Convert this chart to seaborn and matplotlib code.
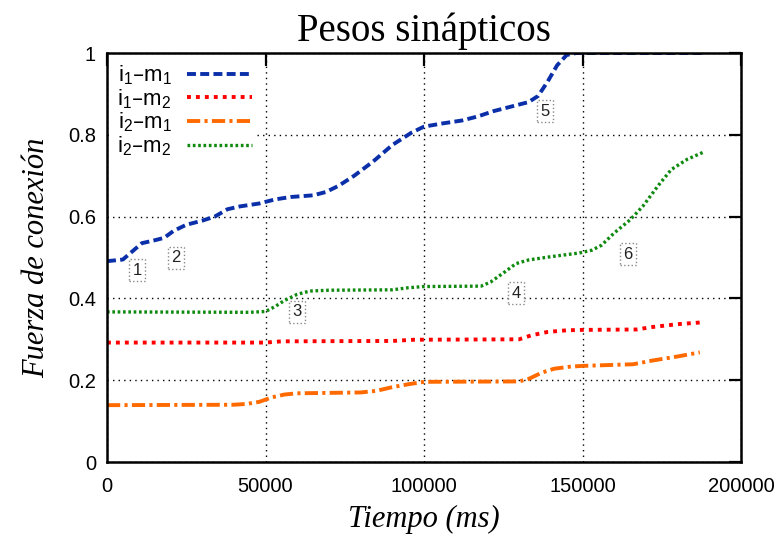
import numpy as np
import pandas as pd
import matplotlib
matplotlib.use("Agg")
import matplotlib.pyplot as plt
import seaborn as sns

# ---- data (time in ms, weights) ----
t_i1m1 = [0, 5000, 8000, 11000, 15000, 18000, 21000, 25000, 30000, 34000, 38000, 42000, 48000,
          53000, 58000, 65000, 69000, 73000, 78000, 84000, 90000, 96000, 100000, 106000, 112000,
          117000, 122000, 128000, 133000, 136000, 139000, 142000, 145000, 148000, 188000]
w_i1m1 = [0.491, 0.495, 0.515, 0.535, 0.542, 0.548, 0.565, 0.580, 0.590, 0.600, 0.618, 0.625, 0.632,
          0.642, 0.648, 0.652, 0.660, 0.675, 0.700, 0.735, 0.775, 0.805, 0.820, 0.828, 0.835,
          0.845, 0.858, 0.870, 0.880, 0.895, 0.930, 0.970, 0.995, 1.000, 1.000]

t_i1m2 = [0, 50000, 55000, 90000, 97000, 100000, 130000, 134000, 139000, 145000, 150000, 167000,
          172000, 180000, 187000]
w_i1m2 = [0.292, 0.292, 0.295, 0.296, 0.299, 0.299, 0.300, 0.310, 0.318, 0.322, 0.323, 0.324,
          0.330, 0.337, 0.341]

t_i2m1 = [0, 40000, 44000, 48000, 52000, 56000, 60000, 80000, 85000, 90000, 95000, 100000, 130000,
          133000, 137000, 141000, 146000, 150000, 166000, 172000, 180000, 187000]
w_i2m1 = [0.139, 0.140, 0.142, 0.147, 0.158, 0.165, 0.168, 0.170, 0.174, 0.183, 0.190, 0.196, 0.197,
          0.203, 0.218, 0.228, 0.233, 0.235, 0.239, 0.248, 0.258, 0.268]

t_i2m2 = [0, 45000, 50000, 53000, 56000, 60000, 64000, 70000, 90000, 95000, 100000, 118000, 121000,
          125000, 129000, 133000, 140000, 149000, 153000, 156000, 160000, 165000, 169000, 174000,
          178000, 183000, 188000]
w_i2m2 = [0.367, 0.366, 0.368, 0.380, 0.395, 0.410, 0.418, 0.420, 0.421, 0.426, 0.429, 0.430, 0.440,
          0.462, 0.485, 0.494, 0.502, 0.511, 0.518, 0.530, 0.560, 0.592, 0.625, 0.677,
          0.715, 0.740, 0.757]

series_labels = ["i$_1$–m$_1$", "i$_1$–m$_2$", "i$_2$–m$_1$", "i$_2$–m$_2$"]

# annotations (label, x, y)
note_labels = ["1", "2", "3", "4", "5", "6"]
note_x = [9460, 21770, 59940, 129020, 138160, 164340]
note_y = [0.469, 0.499, 0.367, 0.413, 0.858, 0.508]

x_ticks = [0, 50000, 100000, 150000, 200000]
y_ticks = [0, 0.2, 0.4, 0.6, 0.8, 1.0]
y_tick_labels = ["0", "0.2", "0.4", "0.6", "0.8", "1"]

# ---- styling ----
sns.set_style("white")
plt.rcParams["font.family"] = ["Liberation Sans", "DejaVu Sans"]
plt.rcParams["mathtext.default"] = "regular"
plt.rcParams["text.color"] = "black"
plt.rcParams["axes.labelcolor"] = "black"

fig = plt.figure(figsize=(7.78, 5.35), dpi=100)
ax = fig.add_axes([107 / 778, 1 - 462 / 535, (741 - 107) / 778, (462 - 53) / 535])

styles = [
    dict(color="#0a2fa8", lw=2.8, ls=(0, (2.3, 1.1)), dash_capstyle="butt"),
    dict(color="#ff0000", lw=2.8, ls=(0, (1.0, 1.3)), dash_capstyle="butt"),
    dict(color="#ff6a00", lw=2.8, ls=(0, (3.4, 1.1, 0.8, 1.1)), dash_capstyle="butt"),
    dict(color="#0f8a0f", lw=2.4, ls=(0, (0.8, 0.8)), dash_capstyle="butt"),
]
data = [(t_i1m1, w_i1m1), (t_i1m2, w_i1m2), (t_i2m1, w_i2m1), (t_i2m2, w_i2m2)]

for (t, w), lab, st in zip(data, series_labels, styles):
    df = pd.DataFrame({"t": t, "w": w})
    sns.lineplot(data=df, x="t", y="w", ax=ax, label=lab, color=st["color"],
                 linewidth=st["lw"], linestyle=st["ls"], dash_capstyle=st["dash_capstyle"])

for lab, x, y in zip(note_labels, note_x, note_y):
    ax.text(x, y, lab, fontsize=12, ha="center", va="center", color="#222222",
            bbox=dict(boxstyle="square,pad=0.2", fc="white", ec="#888888", ls=":", lw=1))

ax.set_xlim(0, 200000)
ax.set_ylim(0, 1)
ax.set_xticks(x_ticks)
ax.set_xticklabels([str(v) for v in x_ticks])
ax.set_yticks(y_ticks)
ax.set_yticklabels(y_tick_labels)
ax.tick_params(direction="in", length=9, width=1.6, top=True, right=True, labelsize=14.5,
               colors="black")
ax.tick_params(axis="x", pad=11)
ax.tick_params(axis="y", pad=8)
ax.grid(True, color="black", linestyle=(0, (1, 3)), linewidth=1.0)
for s in ax.spines.values():
    s.set_linewidth(1.8)
    s.set_color("black")

ax.set_title("Pesos sinápticos", fontsize=28, family="Liberation Serif", pad=9, color="black")
ax.set_xlabel("Tiempo (ms)", fontsize=22, family="Liberation Serif", style="italic", labelpad=6,
              color="black")
ax.set_ylabel("Fuerza de conexión", fontsize=22, family="Liberation Serif", style="italic",
              labelpad=12, color="black")

leg = ax.legend(loc="upper right", bbox_to_anchor=(0.235, 0.985), markerfirst=False,
                fontsize=16, frameon=True, handlelength=2.9, labelspacing=0.0,
                handletextpad=0.7, borderaxespad=0, borderpad=0.2)
leg.get_frame().set_facecolor("white")
leg.get_frame().set_edgecolor("none")
leg.get_frame().set_alpha(1.0)
for txt in leg.get_texts():
    txt.set_ha("right")
    txt.set_color("black")

fig.savefig("out.png", dpi=100)
